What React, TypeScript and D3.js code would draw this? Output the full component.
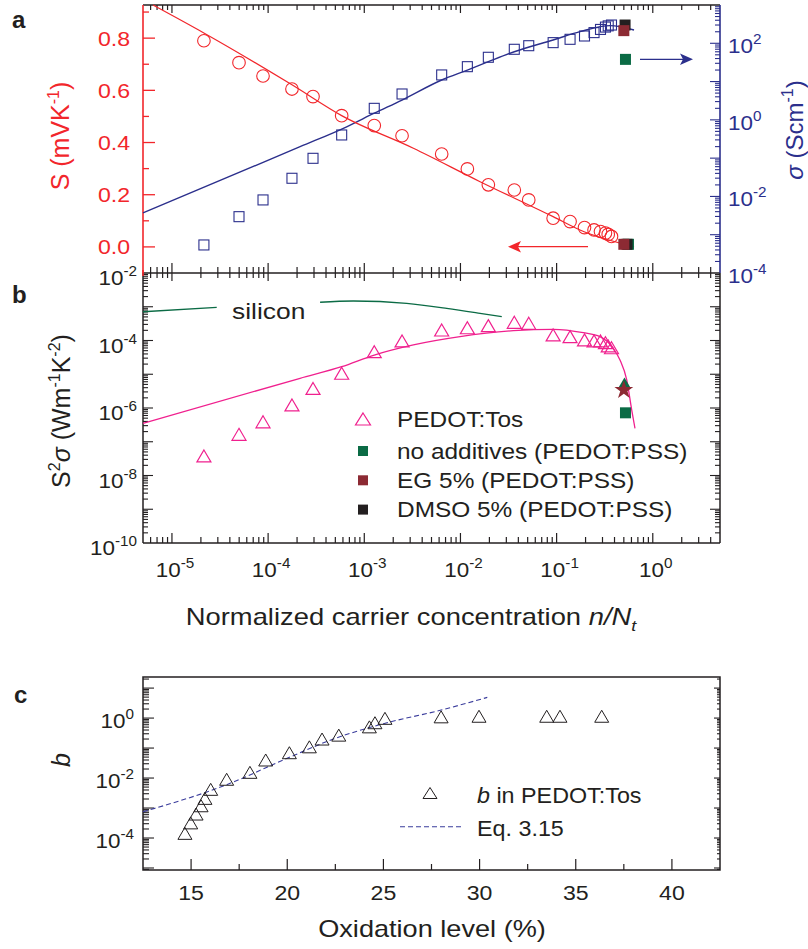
import React from 'react';
import * as d3 from 'd3';

// ---------- data ----------
const nx = [2.15e-5, 4.98e-5, 8.85e-5, 1.77e-4, 2.93e-4, 5.82e-4, 1.27e-3, 2.47e-3, 6.38e-3, 1.18e-2, 1.95e-2, 3.63e-2, 5.13e-2, 0.092, 0.138, 0.195, 0.245, 0.286, 0.322, 0.344, 0.372];
const seebeck = [0.79, 0.706, 0.655, 0.605, 0.576, 0.503, 0.465, 0.426, 0.356, 0.299, 0.238, 0.218, 0.18, 0.11, 0.097, 0.074, 0.065, 0.059, 0.053, 0.048, 0.04];
const sigma = [5.4e-4, 2.96e-3, 8.1e-3, 0.0298, 0.099, 0.403, 2.0, 4.74, 14.9, 24.5, 43.1, 69.7, 86.5, 104, 127, 155, 190, 230, 265, 285, 300];
const power = [3.8e-8, 1.66e-7, 3.9e-7, 1.23e-6, 3.8e-6, 1.07e-5, 4.66e-5, 9.7e-5, 2.05e-4, 2.39e-4, 2.75e-4, 3.46e-4, 3.23e-4, 1.46e-4, 1.3e-4, 1.04e-4, 9.7e-5, 9.7e-5, 8.6e-5, 6.9e-5, 6.1e-5];

// fits
const sFitX = [6.35e-6, 2.17e-5, 1.77e-4, 5.82e-4, 3.24e-3, 1.6e-2, 0.092, 0.175, 0.638];
const sFitY = [0.927, 0.819, 0.621, 0.503, 0.378, 0.25, 0.116, 0.065, 0.001];
const sigFitX = [5e-6, 2.15e-4, 6.56e-4, 1.27e-3, 2.47e-3, 6.38e-3, 0.0118, 0.0195, 0.0363, 0.092, 0.175, 0.36, 0.638];
const sigFitY = [3.7e-3, 0.199, 0.66, 1.49, 3.3, 11, 20, 33, 60, 122, 201, 290, 222];
const pFitX = [5e-6, 2.15e-4, 5.82e-4, 1.27e-3, 3.24e-3, 9.9e-3, 3.55e-2, 0.092, 0.189, 0.282, 0.388, 0.456, 0.536, 0.604, 0.653];
const pFitY = [3.52e-7, 7.6e-6, 1.67e-5, 3.7e-5, 7.4e-5, 1.3e-4, 1.95e-4, 2.15e-4, 1.7e-4, 1.3e-4, 5.9e-5, 2.64e-5, 6.8e-6, 8.7e-7, 2.5e-7];
const siliconAX = [5e-6, 2.92e-5];
const siliconAY = [7.1e-4, 9.6e-4];
const siliconBX = [3.47e-4, 7.69e-4, 2.76e-3, 7.2e-3, 1.6e-2, 2.69e-2];
const siliconBY = [1.36e-3, 1.48e-3, 1.26e-3, 9.0e-4, 6.4e-4, 5.07e-4];

// PEDOT:PSS points
const pssLabels = ['no additives (PEDOT:PSS)', 'EG 5% (PEDOT:PSS)', 'DMSO 5% (PEDOT:PSS)'];
const pssX = [0.52, 0.5, 0.515];
const pssS = [0.01, 0.01, 0.01];
const pssSigma = [38, 214, 300];
const pssPowerGreenTri = 5.5e-6;
const pssPowerStar = 3.4e-6;
const pssPowerGreenSq = 7.2e-7;

// panel c
const oxLevel = [14.68, 14.98, 15.26, 15.52, 15.72, 16.02, 16.85, 18.06, 18.88, 20.11, 21.15, 21.81, 22.68, 24.27, 24.56, 25.08, 28.0, 29.97, 33.49, 34.18, 36.35];
const bVal = [1.43e-4, 3.2e-4, 6.3e-4, 1.19e-3, 2.1e-3, 4.2e-3, 9.1e-3, 1.55e-2, 0.04, 0.07, 0.11, 0.2, 0.27, 0.51, 0.7, 0.98, 1.1, 1.15, 1.15, 1.15, 1.15];
const eqX = [12.5, 16.85, 20.14, 22.4, 25.0, 28.0, 30.4];
const eqY = [7.5e-4, 6.0e-3, 0.05, 0.2, 0.65, 1.85, 4.9];

const xTickExp = [-5, -4, -3, -2, -1, 0];
const sTicks = [0, 0.2, 0.4, 0.6, 0.8];
const sigLabelExp = [-4, -2, 0, 2];
const pLabelExp = [-10, -8, -6, -4, -2];
const cXTicks = [15, 20, 25, 30, 35, 40];
const cYLabelExp = [-4, -2, 0];

// ---------- colours ----------
const RED = '#f2262b';
const BLUE = '#2b2f8c';
const PINK = '#f0208e';
const GREEN = '#0b6b45';
const BROWN = '#8c2a33';
const DARK = '#231f20';
const FONT = '"Liberation Sans", Arial, Helvetica, sans-serif';

// ---------- scales ----------
const L = 143, R = 720;
const xLog = d3.scaleLog().domain([5e-6, 5]).range([L, R]);
const yS = d3.scaleLinear().domain([-0.1, 0.927]).range([273, 5]);
const ySig = d3.scaleLog().domain([1e-4, 1e3]).range([273, 5]);
const yP = d3.scaleLog().domain([1e-10, 1e-2]).range([543, 273]);
const xC = d3.scaleLinear().domain([12.5, 42.5]).range([L, R]);
const yC = d3.scaleLog().domain([Math.pow(10, -5.067), Math.pow(10, 1.37)]).range([870, 677]);

function logTicks(lo: number, hi: number) {
  const out: { v: number; major: boolean }[] = [];
  for (let e = Math.floor(Math.log10(lo)) - 1; e <= Math.ceil(Math.log10(hi)); e++) {
    for (let m = 1; m < 10; m++) {
      const v = m * Math.pow(10, e);
      if (v >= lo * 1.0001 && v <= hi * 0.9999) out.push({ v, major: m === 1 });
    }
  }
  return out;
}

const tri = (w: number, h: number) => `M0,${-h / 2}L${w / 2},${h / 2}L${-w / 2},${h / 2}Z`;

// horizontally stretched text (the reference glyphs are wider than Liberation Sans)
const HText = ({ x, y, sx = 1.1, size = 22, anchor = 'start', fill = DARK, children, ...rest }: any) => (
  <text transform={`translate(${x},${y}) scale(${sx},1)`} textAnchor={anchor} fontSize={size} fill={fill} {...rest}>
    {children}
  </text>
);

const Pow = ({ x, y, e, anchor, fill = DARK, size = 21 }: any) => (
  <HText x={x} y={y} sx={1.07} size={size} anchor={anchor} fill={fill}>
    10<tspan dy={-9} fontSize={size * 0.68}>{e}</tspan>
  </HText>
);

export default function App() {
  const line = d3.line<[number, number]>().curve(d3.curveMonotoneX);
  const zip = (xs: number[], ys: number[], sx: any, sy: any) =>
    xs.map((v, i) => [sx(v), sy(ys[i])] as [number, number]);

  const xTicks = logTicks(5e-6, 5);
  const sigTicks = logTicks(1e-4, 1e3);
  const pTicks = logTicks(1e-10, 1e-2);
  const cYTicks = logTicks(Math.pow(10, -5.067), Math.pow(10, 1.37));

  const starPath = d3.symbol().type(d3.symbolStar).size(110)() as string;

  return (
    <svg width={808} height={949} style={{ position: 'absolute', left: 0, top: 0, background: '#fff' }} fontFamily={FONT}>
      <rect x={0} y={0} width={808} height={949} fill="#fff" />

      {/* ================= Panel a ================= */}
      {xTicks.map((t, i) => {
        const x = xLog(t.v);
        const l = t.major ? 10 : 6;
        return (
          <g key={'xa' + i} stroke={DARK} strokeWidth={1.2}>
            <line x1={x} x2={x} y1={273} y2={273 - l} />
            <line x1={x} x2={x} y1={5} y2={5 + (t.major ? 8 : 5)} />
            <line x1={x} x2={x} y1={273} y2={273 + (t.major ? 8 : 5)} />
            <line x1={x} x2={x} y1={543} y2={543 - l} />
          </g>
        );
      })}
      {d3.range(-1, 10).map((k) => {
        const v = k / 10;
        const y = yS(v);
        if (y > 272 || y < 6) return null;
        const major = k % 2 === 0;
        return <line key={'st' + k} x1={L} x2={L + (major ? 12 : 6)} y1={y} y2={y} stroke={RED} strokeWidth={1.3} />;
      })}
      {sTicks.map((v) => (
        <HText key={'sl' + v} x={130} y={yS(v) + 7.5} sx={1.1} size={21} anchor="end" fill={RED}>
          {v.toFixed(1)}
        </HText>
      ))}
      {sigTicks.map((t, i) => (
        <line key={'sg' + i} x1={R} x2={R - (t.major ? 10 : 5)} y1={ySig(t.v)} y2={ySig(t.v)} stroke={BLUE} strokeWidth={1.1} />
      ))}
      {sigLabelExp.map((e) => (
        <Pow key={'sgl' + e} x={728} y={ySig(Math.pow(10, e)) + 10} e={e} anchor="start" fill={BLUE} />
      ))}
      <line x1={L} x2={R} y1={5} y2={5} stroke={DARK} strokeWidth={1.5} />
      <line x1={L} x2={R} y1={273} y2={273} stroke={DARK} strokeWidth={1.5} />
      <line x1={L} x2={L} y1={5} y2={273} stroke={RED} strokeWidth={1.6} />
      <line x1={R} x2={R} y1={5} y2={273} stroke={BLUE} strokeWidth={1.6} />

      <path d={line(zip(sigFitX, sigFitY, xLog, ySig)) as string} fill="none" stroke={BLUE} strokeWidth={1.4} />
      <path d={line(zip(sFitX, sFitY, xLog, yS)) as string} fill="none" stroke={RED} strokeWidth={1.2} />
      {nx.map((v, i) => (
        <rect key={'sq' + i} x={xLog(v) - 5} y={ySig(sigma[i]) - 5} width={10} height={10} fill="none" stroke={BLUE} strokeWidth={1.1} />
      ))}
      {nx.map((v, i) => (
        <circle key={'c' + i} cx={xLog(v)} cy={yS(seebeck[i])} r={6.3} fill="none" stroke={RED} strokeWidth={1.1} />
      ))}
      {[0, 2, 1].map((k) => {
        const col = [GREEN, BROWN, DARK][k];
        return (
          <g key={'pss' + k}>
            <rect x={xLog(pssX[k]) - 5.5} y={ySig(pssSigma[k]) - 5.5} width={11} height={11} fill={col} />
            <rect x={xLog(pssX[k]) - 5.5 + (k === 0 ? 3 : k === 2 ? 2 : 0)} y={yS(pssS[k]) - 5.5} width={11} height={11} fill={col} />
          </g>
        );
      })}
      <line x1={588} x2={514} y1={246.7} y2={246.7} stroke={RED} strokeWidth={1.3} />
      <path d="M508,246.7 L521,241 L518,246.7 L521,252.4 Z" fill={RED} />
      <line x1={640} x2={687} y1={59.3} y2={59.3} stroke={BLUE} strokeWidth={1.3} />
      <path d="M693,59.3 L680,53.6 L683,59.3 L680,65 Z" fill={BLUE} />

      <text transform="translate(69,136) rotate(-90)" textAnchor="middle" fontSize={25} fill={RED}>
        S (mVK<tspan dy={-10} fontSize={16}>-1</tspan><tspan dy={10}>)</tspan>
      </text>
      <text transform="translate(803,130) rotate(-90)" textAnchor="middle" fontSize={24} fill={BLUE}>
        <tspan fontStyle="italic">σ</tspan> (Scm<tspan dy={-10} fontSize={16}>-1</tspan><tspan dy={10}>)</tspan>
      </text>
      <text x={12} y={28} fontSize={24} fontWeight="bold" fill={DARK}>a</text>

      {/* ================= Panel b ================= */}
      {pTicks.map((t, i) => (
        <g key={'pt' + i} stroke={DARK} strokeWidth={1.1}>
          <line x1={L} x2={L + (t.major ? 10 : 5)} y1={yP(t.v)} y2={yP(t.v)} />
          <line x1={R} x2={R - (t.major ? 10 : 5)} y1={yP(t.v)} y2={yP(t.v)} />
        </g>
      ))}
      {pLabelExp.map((e) => (
        <Pow key={'pl' + e} x={137} y={yP(Math.pow(10, e)) + 12} e={e} anchor="end" />
      ))}
      {xTickExp.map((e) => (
        <Pow key={'xl' + e} x={xLog(Math.pow(10, e)) + 3} y={577} e={e} anchor="middle" />
      ))}
      <line x1={L} x2={R} y1={543} y2={543} stroke={DARK} strokeWidth={1.5} />
      <line x1={L} x2={L} y1={273} y2={543} stroke={DARK} strokeWidth={1.5} />
      <line x1={R} x2={R} y1={273} y2={543} stroke={DARK} strokeWidth={1.5} />
      <line x1={L} x2={L} y1={270} y2={276} stroke={RED} strokeWidth={1.6} />

      <path d={line(zip(siliconAX, siliconAY, xLog, yP)) as string} fill="none" stroke={GREEN} strokeWidth={1.3} />
      <path d={line(zip(siliconBX, siliconBY, xLog, yP)) as string} fill="none" stroke={GREEN} strokeWidth={1.3} />
      <HText x={232} y={319} sx={1.2} size={22}>silicon</HText>
      <path d={line(zip(pFitX, pFitY, xLog, yP)) as string} fill="none" stroke={PINK} strokeWidth={1.3} />
      {nx.map((v, i) => (
        <path key={'tr' + i} d={tri(14, 12)} transform={`translate(${xLog(v)},${yP(power[i])})`} fill="none" stroke={PINK} strokeWidth={1.2} />
      ))}
      <path d={tri(13, 11)} transform={`translate(${xLog(pssX[0]) - 1},${yP(pssPowerGreenTri)})`} fill={GREEN} />
      <path d={starPath} transform={`translate(${xLog(pssX[1])},${yP(pssPowerStar)})`} fill={BROWN} />
      <rect x={xLog(pssX[0]) - 5.5} y={yP(pssPowerGreenSq) - 5.5} width={11} height={11} fill={GREEN} />

      <path d={tri(15, 12)} transform="translate(363,419)" fill="none" stroke={PINK} strokeWidth={1.2} />
      <HText x={397} y={427} sx={1.11} size={22}>PEDOT:Tos</HText>
      {pssLabels.map((lab, k) => (
        <g key={'lg' + k}>
          <rect x={358} y={446 + k * 29.3} width={10} height={10} fill={[GREEN, BROWN, DARK][k]} />
          <HText x={397} y={458.5 + k * 29.3} sx={1.11} size={22}>{lab}</HText>
        </g>
      ))}

      <text transform="translate(70,411) rotate(-90)" textAnchor="middle" fontSize={25} fill={DARK}>
        S<tspan dy={-10} fontSize={16}>2</tspan><tspan dy={10} fontStyle="italic">σ</tspan> (Wm<tspan dy={-10} fontSize={16}>-1</tspan><tspan dy={10}>K</tspan><tspan dy={-10} fontSize={16}>-2</tspan><tspan dy={10}>)</tspan>
      </text>
      <HText x={411} y={625} sx={1.19} size={23} anchor="middle">
        Normalized carrier concentration <tspan fontStyle="italic">n/N</tspan><tspan fontStyle="italic" fontSize={15} dy={6}>t</tspan>
      </HText>
      <text x={12} y={303} fontSize={24} fontWeight="bold" fill={DARK}>b</text>

      {/* ================= Panel c ================= */}
      {cYTicks.map((t, i) => (
        <g key={'cy' + i} stroke={DARK} strokeWidth={1.1}>
          <line x1={L} x2={L + (t.major ? 11 : 6)} y1={yC(t.v)} y2={yC(t.v)} />
          <line x1={R} x2={R - (t.major ? 6 : 3)} y1={yC(t.v)} y2={yC(t.v)} />
        </g>
      ))}
      {d3.range(15, 42.5, 2.5).map((v) => {
        const major = v % 5 === 0;
        return <line key={'cx' + v} x1={xC(v)} x2={xC(v)} y1={870} y2={870 - (major ? 11 : 6)} stroke={DARK} strokeWidth={1.2} />;
      })}
      {cXTicks.map((v) => (
        <HText key={'cxl' + v} x={xC(v)} y={900} sx={1.1} size={21} anchor="middle">{v}</HText>
      ))}
      {cYLabelExp.map((e) => (
        <Pow key={'cyl' + e} x={134} y={yC(Math.pow(10, e)) + 10} e={e} anchor="end" />
      ))}
      <rect x={L} y={677} width={R - L} height={193} fill="none" stroke={DARK} strokeWidth={1.5} />
      <path d={line(zip(eqX, eqY, xC, yC)) as string} fill="none" stroke="#3a3c9c" strokeWidth={1.1} strokeDasharray="5,3" />
      {oxLevel.map((v, i) => (
        <path key={'ct' + i} d={tri(14, 12)} transform={`translate(${xC(v)},${yC(bVal[i])})`} fill="none" stroke={DARK} strokeWidth={1} />
      ))}
      <path d={tri(14, 11)} transform="translate(430,793)" fill="none" stroke={DARK} strokeWidth={1} />
      <HText x={477} y={803} sx={1.06} size={22}>
        <tspan fontStyle="italic">b</tspan> in PEDOT:Tos
      </HText>
      <line x1={400} x2={462} y1={826.7} y2={826.7} stroke="#3a3c9c" strokeWidth={1.1} strokeDasharray="5,3" />
      <HText x={477} y={836} sx={1.06} size={22}>Eq. 3.15</HText>

      <text transform="translate(70,760) rotate(-90)" textAnchor="middle" fontSize={25} fontStyle="italic" fill={DARK}>b</text>
      <HText x={432} y={937} sx={1.18} size={23} anchor="middle">Oxidation level (%)</HText>
      <text x={14} y={703} fontSize={24} fontWeight="bold" fill={DARK}>c</text>
    </svg>
  );
}
